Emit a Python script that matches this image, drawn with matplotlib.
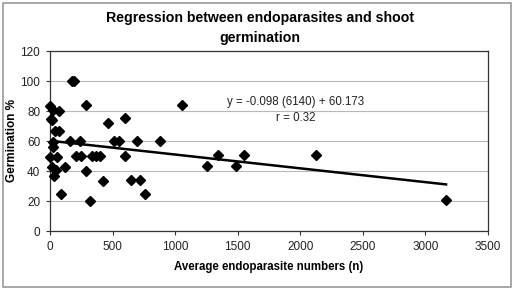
import matplotlib.pyplot as plt
import numpy as np
from matplotlib.patches import Rectangle

plt.rcParams['font.family'] = ['Liberation Sans', 'DejaVu Sans']

# average endoparasite numbers (x) and germination % (y)
parasites = [175, 190, 0, 27, 69, 288, 5, 15, 461, 602, 37, 75, 1055,
             27, 160, 240, 512, 554, 698, 879, 21, 0, 53, 208, 245, 333,
             368, 400, 602, 13, 48, 32, 117, 288, 421, 645, 719, 90, 762,
             320, 1258, 1343, 1487, 1553, 2126, 3165]
germination = [100.2, 100.2, 83.5, 81, 80.2, 84, 75, 74, 71.8, 75.1, 66.7, 66.7, 84,
               59.5, 60, 60, 60, 60, 60, 60, 55.8, 49.5, 49.5, 50, 50, 50,
               50, 50, 50, 42.5, 40.7, 36.7, 42.9, 40.2, 33.5, 34, 34, 24.7, 25,
               20.2, 43.3, 50.7, 43.3, 50.7, 50.7, 21]

# trend line coefficients
slope = -0.0092
intercept = 60.173

xticks = [0, 500, 1000, 1500, 2000, 2500, 3000, 3500]
yticks = [0, 20, 40, 60, 80, 100, 120]

fig = plt.figure(figsize=(5.19, 2.93), dpi=100)
ax = fig.add_axes([50 / 519, 1 - 231 / 293, 438 / 519, 180 / 293])

ax.plot(parasites, germination, 'D', color='black', markersize=5, zorder=3,
        clip_on=False)

line_x = np.array([0, max(parasites)])
ax.plot(line_x, slope * line_x + intercept, color='black', lw=1.8, zorder=2)

ax.set_xlim(0, 3500)
ax.set_ylim(0, 120)
ax.set_xticks(xticks)
ax.set_yticks(yticks)
ax.grid(axis='y', color='#b8b8b8', lw=0.8)
ax.set_axisbelow(True)
for s in ax.spines.values():
    s.set_color('#333333')
    s.set_linewidth(0.9)
ax.tick_params(direction='out', length=3, labelsize=8.5, colors='#333333',
               labelcolor='#222222', pad=4)

ax.set_xlabel('Average endoparasite numbers (n)', fontsize=8.3, fontweight='bold',
              labelpad=6)
ax.set_ylabel('Germination %', fontsize=8.5, fontweight='bold', labelpad=2)

fig.text(0.5, 1 - 18 / 293, 'Regression between endoparasites and shoot',
         ha='center', va='center', fontsize=10.2, fontweight='bold')
fig.text(0.5, 1 - 38 / 293, 'germination', ha='center', va='center',
         fontsize=10.2, fontweight='bold')

ax.text(1966, 86.2, 'y = -0.098 (6140) + 60.173', ha='center', va='center',
        fontsize=8.3, color='#222222')
ax.text(1966, 75.3, 'r = 0.32', ha='center', va='center', fontsize=8.3,
        color='#222222')

fig.patches.append(Rectangle((3 / 519, 6 / 293), 508 / 519, 284 / 293,
                             transform=fig.transFigure, fill=False,
                             edgecolor='#999999', lw=1.2))

fig.savefig('out.png', dpi=100)
